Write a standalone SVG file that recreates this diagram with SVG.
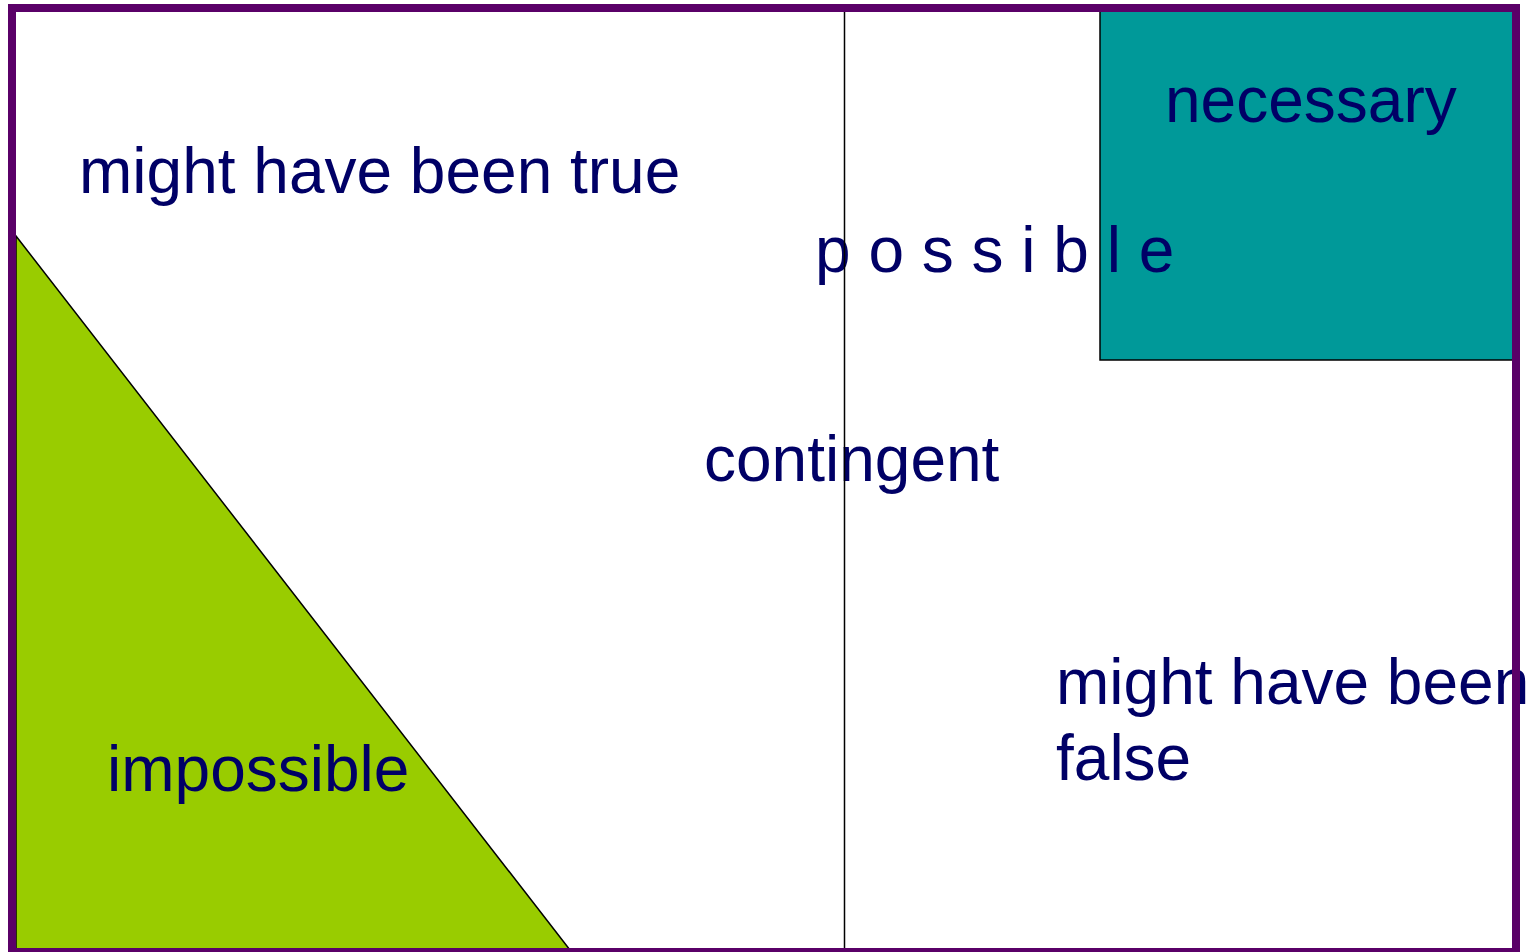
<svg xmlns="http://www.w3.org/2000/svg" width="1535" height="952" viewBox="0 0 1535 952">
  <style>
    .lbl { font-family: "Liberation Sans", Arial, sans-serif; font-size: 64px; fill: #000066; }
    .edge { stroke: #000000; stroke-width: 1.5; }
  </style>
  <rect x="0" y="0" width="1535" height="952" fill="#ffffff"/>
  <g id="impossible-region">
    <polygon points="16,236 570,950 16,950" fill="#99CC00" class="edge"/>
  </g>
  <g id="necessary-region">
    <rect x="1100" y="8" width="414" height="352" fill="#009999" class="edge"/>
  </g>
  <g id="labels">
    <text class="lbl" x="79" y="193">might have been true</text>
    <text class="lbl" x="1165" y="122">necessary</text>
    <text class="lbl" x="815" y="272" xml:space="preserve">p o s s i b l e</text>
    <text class="lbl" x="704" y="481">contingent</text>
    <text class="lbl" x="107" y="791">impossible</text>
    <text class="lbl" x="1056" y="704">might have been</text>
    <text class="lbl" x="1056" y="780">false</text>
  </g>
  <g id="connectors">
    <line x1="844.5" y1="12" x2="844.5" y2="950" class="edge"/>
  </g>
  <g id="frame">
    <rect x="12" y="8" width="1504" height="944" fill="none" stroke="#5A0068" stroke-width="8"/>
  </g>
</svg>
